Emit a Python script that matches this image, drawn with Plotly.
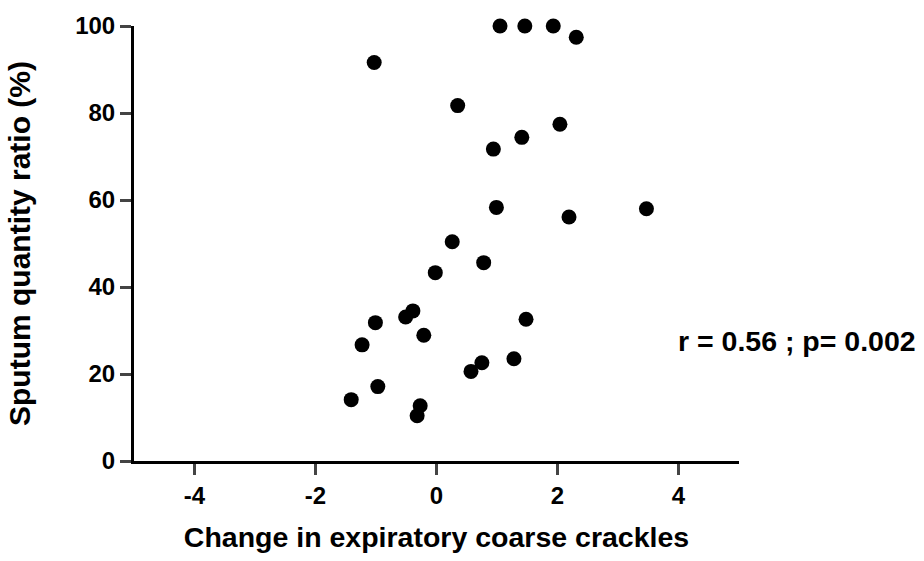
import plotly.graph_objects as go

x_change = [-1.03, 0.35, 1.05, 1.46, 1.93, 2.31, 2.04, 1.41, 0.94, 0.99, 2.19, 3.47,
            0.26, 0.78, -0.02, -0.39, -0.51, -1.01, -0.21, -1.23, 0.75, 0.57,
            -0.97, -1.41, -0.27, -0.32, 1.48, 1.28]
y_ratio = [91.6, 81.7, 100.0, 100.0, 100.0, 97.4, 77.4, 74.4, 71.7, 58.3, 56.1, 58.0,
           50.4, 45.6, 43.3, 34.5, 33.1, 31.8, 28.9, 26.7, 22.6, 20.6,
           17.1, 14.1, 12.7, 10.4, 32.6, 23.5]

x_ticks = [-4, -2, 0, 2, 4]
x_tick_labels = ["-4", "-2", "0", "2", "4"]
y_ticks = [0, 20, 40, 60, 80, 100]
y_tick_labels = ["0", "20", "40", "60", "80", "100"]
stat_text = "r = 0.56 ; p= 0.002"

FONT = "Liberation Sans, Arial, sans-serif"

fig = go.Figure()
fig.add_trace(go.Scatter(
    x=x_change, y=y_ratio, mode="markers",
    marker=dict(size=15, color="black"),
    cliponaxis=False, showlegend=False, hoverinfo="skip",
))

fig.update_layout(
    width=924, height=561,
    margin=dict(l=134, r=185, t=20, b=93),
    plot_bgcolor="white", paper_bgcolor="white",
    font=dict(family=FONT, color="black"),
    xaxis=dict(
        range=[-5, 5], tickvals=x_ticks, ticktext=x_tick_labels,
        ticks="outside", ticklen=11, tickwidth=3,
        showline=True, linewidth=3, linecolor="black", showgrid=False, zeroline=False,
        tickfont=dict(size=24, family=FONT, weight="bold"),
        title=dict(text="Change in expiratory coarse crackles",
                   font=dict(size=28.5, family=FONT, weight="bold"), standoff=20),
    ),
    yaxis=dict(
        range=[0, 100], tickvals=y_ticks, ticktext=y_tick_labels,
        ticks="outside", ticklen=11, tickwidth=3,
        showline=True, linewidth=3, linecolor="black", showgrid=False, zeroline=False,
        tickfont=dict(size=24, family=FONT, weight="bold"),
        title=dict(text="Sputum quantity ratio (%)",
                   font=dict(size=30, family=FONT, weight="bold"), standoff=36),
    ),
    annotations=[dict(
        text=stat_text, xref="paper", yref="paper", x=1.0, y=(468.5 - 345) / 448,
        xshift=-63, xanchor="left", yanchor="middle", showarrow=False,
        font=dict(size=28.5, family=FONT, weight="bold", color="black"),
    )],
)

fig.write_html("out.html", config={"displayModeBar": False},
               post_script="document.body.style.margin='0';")
